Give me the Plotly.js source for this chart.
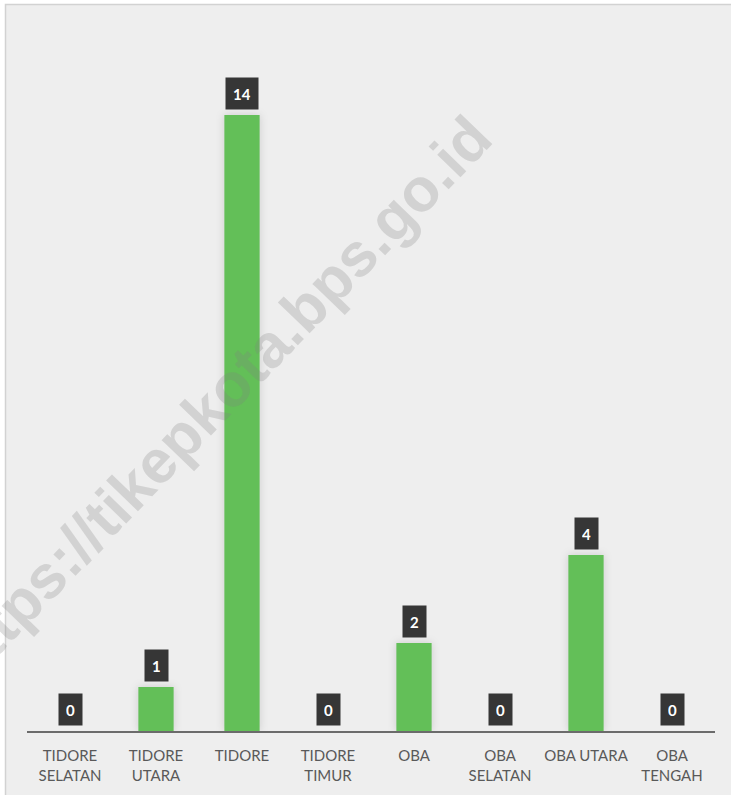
<!DOCTYPE html>
<html>
<head>
<meta charset="utf-8">
<script src="https://cdn.plot.ly/plotly-3.0.1.min.js"></script>
<style>
html,body{margin:0;padding:0;background:#fff;}
#chart{width:731px;height:795px;}
.bars .point path{filter:drop-shadow(0 0 4px rgba(0,0,0,0.14));}
</style>
</head>
<body>
<div id="chart"></div>
<script>
const categories = ["TIDORE<br>SELATAN", "TIDORE<br>UTARA", "TIDORE", "TIDORE<br>TIMUR", "OBA", "OBA<br>SELATAN", "OBA UTARA", "OBA<br>TENGAH"];
const values = [0, 1, 14, 0, 2, 0, 4, 0];
const watermark = "https://tikepkota.bps.go.id";

const W = 731, H = 795;
const mL = 27, mR = 16, mT = 40, mB = 64;
const plotW = W - mL - mR, plotH = H - mT - mB;
const px2x = px => (px - mL) / plotW;
const py2y = py => (H - mB - py) / plotH;

const xIdx = categories.map((c, i) => i);

const trace = {
  type: 'bar',
  x: xIdx,
  y: values,
  width: 0.41,
  marker: {color: '#63bf58', line: {width: 0}},
  hoverinfo: 'none'
};

const labelAnns = values.map((v, i) => ({
  x: i, y: v, xref: 'x', yref: 'y',
  text: '<b>' + v + '</b>',
  showarrow: false,
  yanchor: 'bottom',
  yshift: 5,
  bgcolor: '#363636',
  borderpad: 7,
  height: 17,
  font: {family: 'Lato, "Open Sans", sans-serif', size: 15, color: '#ffffff'}
}));

const wmAnn = {
  xref: 'paper', yref: 'paper',
  x: px2x(216), y: py2y(400),
  xanchor: 'center', yanchor: 'middle',
  text: '<b>' + watermark + '</b>',
  textangle: -46,
  showarrow: false,
  font: {family: '"Liberation Sans", Arial, sans-serif', size: 61, color: 'rgba(128,128,128,0.25)'}
};

const layout = {
  width: W, height: H,
  margin: {l: mL, r: mR, t: mT, b: mB},
  paper_bgcolor: '#ffffff',
  plot_bgcolor: 'rgba(0,0,0,0)',
  showlegend: false,
  xaxis: {
    range: [-0.5, 7.5],
    tickmode: 'array',
    tickvals: xIdx,
    ticktext: categories,
    showline: true, linecolor: '#6b6b6b', linewidth: 2,
    ticks: '', showgrid: false, zeroline: false,
    ticklabelstandoff: 10,
    tickfont: {family: 'Lato, "Open Sans", sans-serif', size: 15, color: '#595959'},
    fixedrange: true
  },
  yaxis: {
    range: [0, plotH / 44],
    visible: false, showgrid: false, zeroline: false, fixedrange: true
  },
  shapes: [{
    type: 'rect', xref: 'paper', yref: 'paper', layer: 'below',
    x0: px2x(5.5), x1: px2x(760), y0: py2y(830), y1: py2y(4.5),
    fillcolor: '#eeeeee', line: {color: '#d2d2d2', width: 1.5}
  }],
  annotations: [wmAnn].concat(labelAnns)
};

Plotly.newPlot('chart', [trace], layout, {displayModeBar: false, staticPlot: true});
</script>
</body>
</html>
